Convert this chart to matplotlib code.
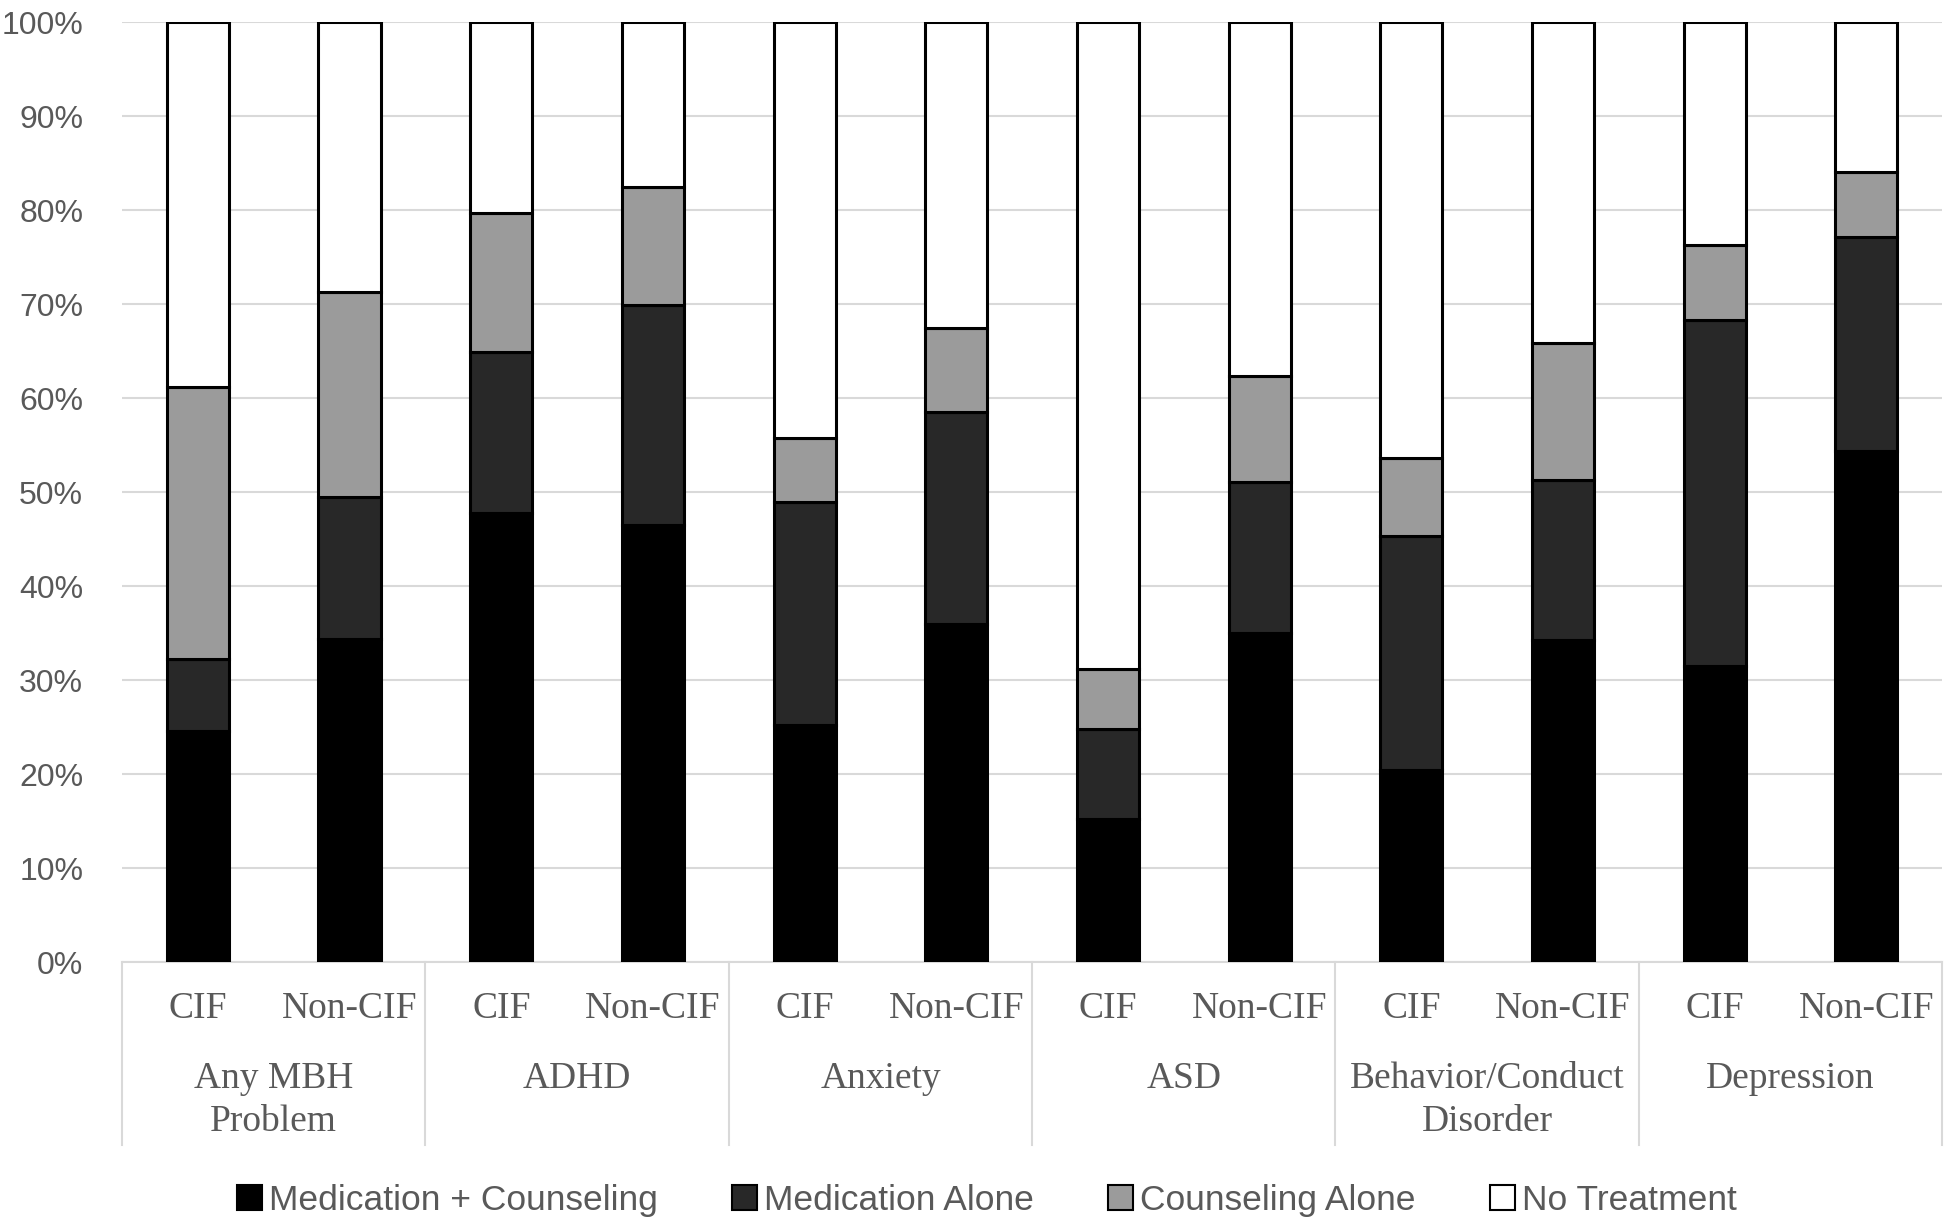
import numpy as np
import matplotlib
matplotlib.use("Agg")
import matplotlib.pyplot as plt
from matplotlib.patches import Patch
from matplotlib.lines import Line2D

# Category structure
groups = ["Any MBH\nProblem", "ADHD", "Anxiety", "ASD",
          "Behavior/Conduct\nDisorder", "Depression"]
subgroups = ["CIF", "Non-CIF"]

# Cumulative tops (percent), one entry per bar
med_couns = [24.6, 34.4, 47.8, 46.5, 25.2, 36.0, 15.2, 35.0, 20.4, 34.3, 31.5, 54.4]
med_alone_top = [32.2, 49.5, 64.9, 69.9, 48.9, 58.5, 24.8, 51.1, 45.3, 51.3, 68.3, 77.1]
couns_top = [61.2, 71.3, 79.7, 82.4, 55.8, 67.4, 31.2, 62.3, 53.6, 65.9, 76.3, 84.0]

series_names = ["Medication + Counseling", "Medication Alone",
                "Counseling Alone", "No Treatment"]
series_colors = ["#000000", "#282828", "#9b9b9b", "#ffffff"]

med_couns = np.array(med_couns)
med_alone = np.array(med_alone_top) - med_couns
couns = np.array(couns_top) - np.array(med_alone_top)
no_treat = 100 - np.array(couns_top)
values = [med_couns, med_alone, couns, no_treat]

tick_font = "Liberation Sans"
cat_font = "Liberation Serif"
gray = "#595959"

fig = plt.figure(figsize=(19.5, 12.24), dpi=100)
ax = fig.add_axes([0.0626, 0.214, 0.9334, 0.768])

x = np.arange(len(med_couns))
bottom = np.zeros(len(x))
for vals, col in zip(values, series_colors):
    ax.bar(x, vals, width=0.41, bottom=bottom, color=col,
           edgecolor="black", linewidth=2.2, zorder=3)
    bottom += vals

ax.set_xlim(-0.5, len(x) - 0.5)
ax.set_ylim(0, 100)
ax.set_yticks(np.arange(0, 101, 10))
ax.set_yticklabels([f"{v}%" for v in range(0, 101, 10)],
                   fontfamily=tick_font, fontsize=23, color=gray)
ax.tick_params(axis="y", length=0, pad=28)
ax.set_xticks([])
ax.yaxis.grid(True, color="#d9d9d9", linewidth=1.5, zorder=0)
for side in ["left", "right", "top"]:
    ax.spines[side].set_visible(False)
ax.spines["bottom"].set_color("#d9d9d9")
ax.spines["bottom"].set_linewidth(1.5)

# multi-level category axis
trans = ax.get_xaxis_transform()
for i in range(len(x)):
    ax.text(x[i], -0.050, subgroups[i % 2], transform=trans, ha="center",
            va="center", fontfamily=cat_font, fontsize=27, color=gray)
for g, name in enumerate(groups):
    ax.text(2 * g + 0.5, -0.106, name, transform=trans, ha="center",
            va="top", fontfamily=cat_font, fontsize=27, color=gray,
            linespacing=1.3)
for b in np.arange(-0.5, len(x), 2):
    ax.add_line(Line2D([b, b], [0, -0.195], transform=trans, color="#d9d9d9",
                       linewidth=1.5, clip_on=False))

handles = [Patch(facecolor=c, edgecolor="black", linewidth=1.5) for c in series_colors]
leg = fig.legend(handles, series_names, loc="center", bbox_to_anchor=(0.506, 0.019),
                 ncol=4, frameon=False, handlelength=0.7, handleheight=0.7,
                 handletextpad=0.2, columnspacing=2.1,
                 prop={"family": tick_font, "size": 25.5})
for t in leg.get_texts():
    t.set_color(gray)

fig.savefig("out.png", dpi=100)
